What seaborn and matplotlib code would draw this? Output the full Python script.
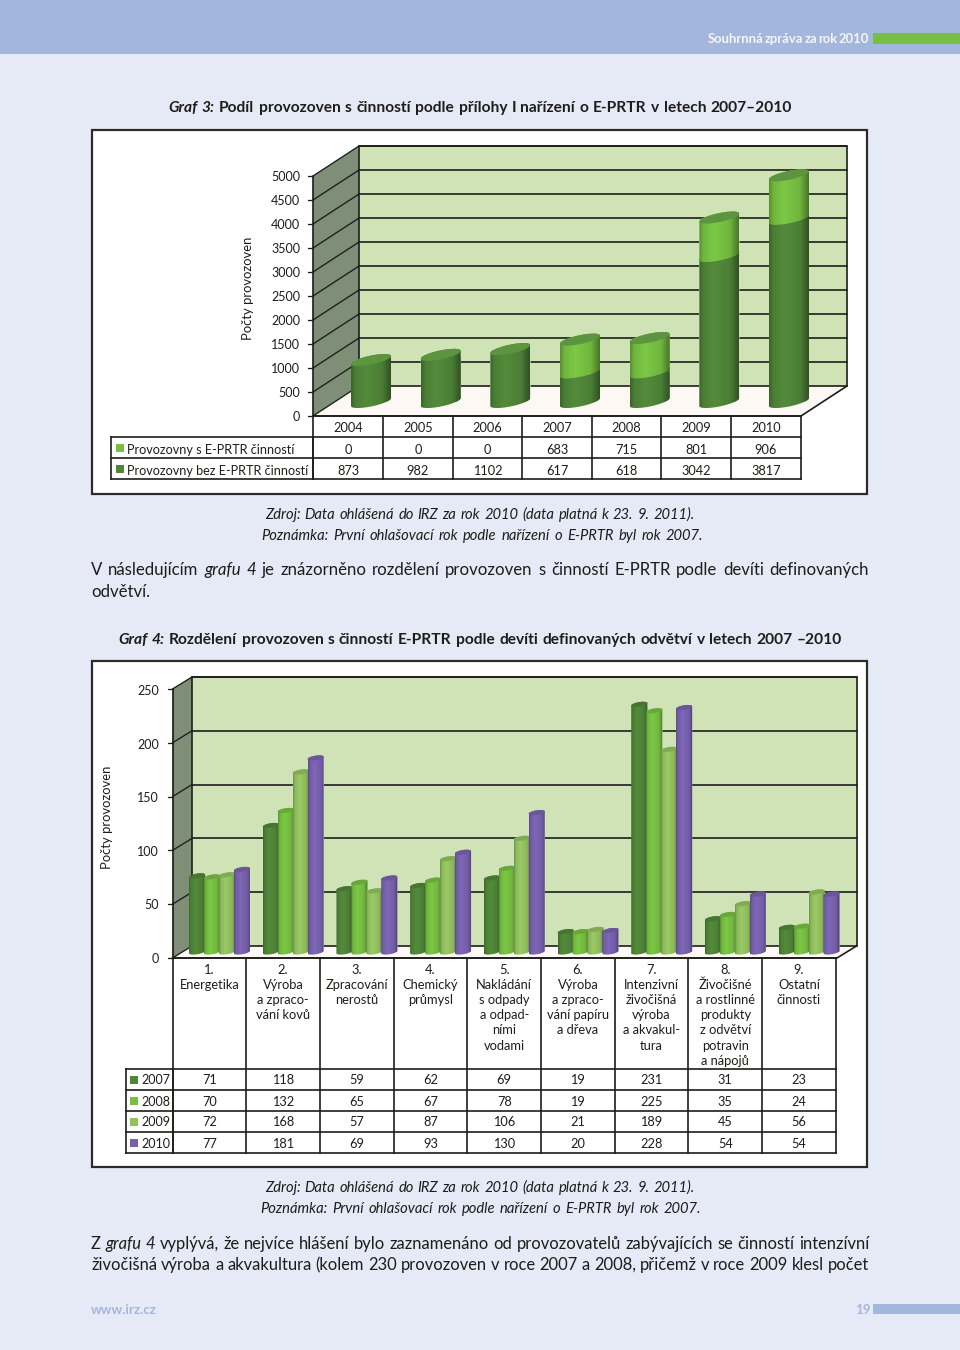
import numpy as np
import pandas as pd
import matplotlib
matplotlib.use("Agg")
import matplotlib.pyplot as plt
import seaborn as sns
from matplotlib.patches import Polygon, Rectangle

# dati graf 3
roky = ['2004', '2005', '2006', '2007', '2008', '2009', '2010']
s_prtr = [0, 0, 0, 683, 715, 801, 906]
bez_prtr = [873, 982, 1102, 617, 618, 3042, 3817]
ticks3 = [0, 500, 1000, 1500, 2000, 2500, 3000, 3500, 4000, 4500, 5000]

# dati graf 4
odvetvi = ['1', '2', '3', '4', '5', '6', '7', '8', '9']
popisky = [
    ['1.', 'Energetika'],
    ['2.', 'Výroba', 'a zpraco-', 'vání kovů'],
    ['3.', 'Zpracování', 'nerostů'],
    ['4.', 'Chemický', 'průmysl'],
    ['5.', 'Nakládání', 's odpady', 'a odpad-', 'ními', 'vodami'],
    ['6.', 'Výroba', 'a zpraco-', 'vání papíru', 'a dřeva'],
    ['7.', 'Intenzivní', 'živočišná', 'výroba', 'a akvakul-', 'tura'],
    ['8.', 'Živočišné', 'a rostlinné', 'produkty', 'z odvětví', 'potravin', 'a nápojů'],
    ['9.', 'Ostatní', 'činnosti'],
]
h2007 = [71, 118, 59, 62, 69, 19, 231, 31, 23]
h2008 = [70, 132, 65, 67, 78, 19, 225, 35, 24]
h2009 = [72, 168, 57, 87, 106, 21, 189, 45, 56]
h2010 = [77, 181, 69, 93, 130, 20, 228, 54, 54]
ticks4 = [0, 50, 100, 150, 200, 250]

TMAVA = '#4f8538'
SVETLA = '#76bf42'
BLEDA = '#93c160'
FIALOVA = '#7862ae'
POZADI = '#e6eaf6'
MODRA = '#a3b6dc'
STENA = '#cfe3b7'
BOK = '#7e8e77'
CARA = '#1d1d1b'
W, H = 960, 1350

sns.set_style("white")
plt.rcParams['font.family'] = ['Lato', 'DejaVu Sans']

fig = plt.figure(figsize=(W / 100, H / 100), dpi=100, facecolor=POZADI)
page = fig.add_axes([0, 0, 1, 1], zorder=0)
page.set_xlim(0, W)
page.set_ylim(H, 0)
page.axis('off')
fx = fig.add_axes([0, 0, 1, 1], zorder=3)
fx.set_xlim(0, W)
fx.set_ylim(H, 0)
fx.axis('off')
rend = fig.canvas.get_renderer()
poradi = [10]


def osy(x0, x1, y0, y1):
    ax = fig.add_axes([x0 / W, 1 - y1 / H, (x1 - x0) / W, (y1 - y0) / H], zorder=1)
    ax.patch.set_alpha(0)
    return ax


def do_stranky(ax, x, y):
    return page.transData.inverted().transform(ax.transData.transform((x, y)))


def stin(n=40):
    # svetlo na valci: tmave okraje, svetlo vlevo od stredu
    u = np.linspace(0, 1, n)
    return np.interp(u, [0, 0.1, 0.38, 0.78, 1], [0.76, 0.95, 1.05, 0.95, 0.62])


def valec(patch, ax, barva, ybot, k, b, cap=None, pad=0):
    x = patch.get_x()
    w = patch.get_width()
    xl, ytop = do_stranky(ax, x, patch.get_y() + patch.get_height())
    xr, _ = do_stranky(ax, x + w, 0)
    xl -= pad
    xr += pad
    a = (xr - xl) / 2
    cx = (xl + xr) / 2
    t1 = np.linspace(0, np.pi, 30)
    t2 = np.linspace(np.pi, 2 * np.pi, 30)
    horni = np.column_stack([cx + a * np.cos(t1), ytop - a * k * np.cos(t1) - b * np.sin(t1)])
    dolni = np.column_stack([cx + a * np.cos(t2), ybot - a * k * np.cos(t2) - b * np.sin(t2)])
    obrys = Polygon(np.vstack([horni, dolni]), closed=True, transform=fx.transData, fc='none', ec='none')
    fx.add_patch(obrys)
    rgb = np.array(matplotlib.colors.to_rgb(barva))
    img = np.clip(stin()[None, :, None] * rgb[None, None, :], 0, 1)
    poradi[0] += 1
    im = fx.imshow(img, extent=[xl, xr, ybot + b + a * k + 1, ytop - b - a * k - 1], aspect='auto',
                   interpolation='bilinear', zorder=poradi[0])
    im.set_clip_path(obrys)
    patch.set_clip_path(obrys.get_path(), transform=fx.transData)
    if cap is not None:
        t = np.r_[t1, t2]
        vrsek = np.column_stack([cx + a * np.cos(t), ytop - a * k * np.cos(t) - b * np.sin(t)])
        poradi[0] += 1
        fx.add_patch(Polygon(vrsek, closed=True, fc=cap, ec='none', zorder=poradi[0]))
    fx.set_xlim(0, W)
    fx.set_ylim(H, 0)


def radek(x, y, casti, sirka=None, size=11, color='#1d1d1b'):
    # text po slovech, aby slo michat rezy a zarovnat do sirky
    y = y + 1
    slova = []
    for text, styl in casti:
        for s in text.split():
            t = page.text(x, y, s, fontsize=size, color=color, va='center', ha='left', **styl)
            slova.append((t, t.get_window_extent(rend).width))
    soucet = sum(s[1] for s in slova)
    mezera = size * 0.32
    if sirka is not None and len(slova) > 1:
        mezera = (sirka - soucet) / (len(slova) - 1)
    for t, w in slova:
        t.set_x(x)
        x += w + mezera


def tabulka_cary(xs, ys):
    for x in xs:
        page.plot([x, x], [ys[0], ys[-1]], color=CARA, lw=1.2, solid_capstyle='projecting')
    for y in ys:
        page.plot([xs[0], xs[-1]], [y, y], color=CARA, lw=1.2, solid_capstyle='projecting')


def kostra(xf, xb, xr, y_front, y_back, y_top, grid, lw=1.2):
    # xf/xb predni a zadni levy roh, xr pravy zadni roh
    dx, dy = xb - xf, y_front - y_back
    page.add_patch(Polygon([(xb, y_top), (xr, y_top), (xr, y_back), (xb, y_back)], fc=STENA, ec='none'))
    page.add_patch(Polygon([(xf, y_front), (xb, y_back), (xb, y_top), (xf, y_top + dy)], fc=BOK, ec='none'))
    page.add_patch(Polygon([(xf, y_front), (xb, y_back), (xr, y_back), (xr - dx, y_front)], fc='#fdf8f4', ec='none'))
    for g in grid:
        page.plot([xb, xr], [g, g], color=CARA, lw=lw)
        page.plot([xf, xb], [g + dy, g], color=CARA, lw=lw * 0.8)
        page.plot([xf - 5, xf], [g + dy, g + dy], color=CARA, lw=lw * 0.8)
    page.plot([xb, xr, xr], [y_top, y_top, y_back], color=CARA, lw=lw)
    page.plot([xb, xb], [y_top, y_back], color=CARA, lw=lw)
    page.plot([xf, xf], [y_top + dy, y_front], color=CARA, lw=lw)
    page.plot([xf, xr - dx, xr], [y_front, y_front, y_back], color=CARA, lw=lw)


# hlavicka a paticka
page.add_patch(Rectangle((0, 0), W, 54, fc=MODRA, ec='none'))
page.add_patch(Rectangle((873, 33), 87, 11, fc=SVETLA, ec='none'))
radek(708, 38, [('Souhrnná zpráva za rok 2010', dict(fontweight='bold'))], sirka=161, size=9.4, color='#f2f5fb')
radek(91, 1309, [('www.irz.cz', dict(fontweight='bold'))], size=9.6, color=MODRA)
radek(855, 1309, [('19', dict(fontweight='bold'))], size=9.6, color=MODRA)
page.add_patch(Rectangle((873, 1304), 87, 10, fc=MODRA, ec='none'))

# ramecky
for y0, y1 in [(130, 494), (661, 1167)]:
    page.add_patch(Rectangle((92, y0), 775, y1 - y0, fc='white', ec='#2b2b2b', lw=1.6))

# texty
B = dict(fontweight='bold')
BI = dict(fontweight='bold', style='italic')
I = dict(style='italic')
N = dict()
radek(168, 107, [('Graf 3:', BI), ('Podíl provozoven s činností podle přílohy I nařízení o E-PRTR v letech 2007–2010', B)], sirka=624, size=11.2)
radek(118, 639, [('Graf 4:', BI), ('Rozdělení provozoven s činností E-PRTR podle devíti definovaných odvětví v letech 2007 –2010', B)], sirka=724, size=11.2)
radek(265, 514, [('Zdroj: Data ohlášená do IRZ za rok 2010 (data platná k 23. 9. 2011).', I)], sirka=430, size=10.6)
radek(261, 535, [('Poznámka: První ohlašovací rok podle nařízení o E-PRTR byl rok 2007.', I)], sirka=442, size=10.6)
radek(265, 1187, [('Zdroj: Data ohlášená do IRZ za rok 2010 (data platná k 23. 9. 2011).', I)], sirka=430, size=10.6)
radek(260, 1208, [('Poznámka: První ohlašovací rok podle nařízení o E-PRTR byl rok 2007.', I)], sirka=441, size=10.6)
radek(91, 569, [('V následujícím', N), ('grafu 4', I), ('je znázorněno rozdělení provozoven s činností E-PRTR podle devíti definovaných', N)], sirka=778, size=12.1)
radek(91, 591, [('odvětví.', N)], size=12.1)
radek(91, 1243, [('Z', N), ('grafu 4', I), ('vyplývá, že nejvíce hlášení bylo zaznamenáno od provozovatelů zabývajících se činností intenzívní', N)], sirka=778, size=11.9)
radek(91, 1264, [('živočišná výroba a akvakultura (kolem 230 provozoven v roce 2007 a 2008, přičemž v roce 2009 klesl počet', N)], sirka=778, size=11.9)

# graf 3
kostra(313, 359, 847, 416, 386, 146, [386 - 24 * i for i in range(11)])
for v in ticks3:
    page.text(300, 417 - v * 0.048, str(v), ha='right', va='center', fontsize=9, color=CARA)
page.text(248, 288, 'Počty provozoven', rotation=90, ha='center', va='center', fontsize=9.4, color=CARA)

ax3 = osy(371 - 34.83, 789 + 34.83, 146, 402)
celkem = [a + b for a, b in zip(bez_prtr, s_prtr)]
sns.barplot(x=roky, y=celkem, color=SVETLA, saturation=1, width=0.574, ax=ax3)
sns.barplot(x=roky, y=bez_prtr, color=TMAVA, saturation=1, width=0.574, ax=ax3)
ax3.set_ylim(0, (402 - 146) / 0.048)
ax3.axis('off')
n = len(roky)
VICKO = '#5c9440'
for i in range(n):
    celek, spodek = ax3.patches[i], ax3.patches[n + i]
    valec(spodek, ax3, TMAVA, 402, 0.2, 4.5, cap=VICKO)
    if s_prtr[i] > 0:
        yb = do_stranky(ax3, 0, bez_prtr[i])[1]
        valec(celek, ax3, SVETLA, yb, 0.2, 4.5, cap=VICKO)
    else:
        # bez svetle casti: sloupec celkem se orizne stejne jako spodek
        celek.set_clip_path(spodek.get_clip_path())

xs3 = [313, 383, 453, 522, 592, 661, 731, 801]
tabulka_cary(xs3, [416, 437, 458, 479])
tabulka_cary([111, 313], [437, 458, 479])
for i in range(n):
    xc = (xs3[i] + xs3[i + 1]) / 2
    page.text(xc, 428, roky[i], ha='center', va='center', fontsize=9.2, color=CARA)
    page.text(xc, 450, str(s_prtr[i]), ha='center', va='center', fontsize=9.2, color=CARA)
    page.text(xc, 471, str(bez_prtr[i]), ha='center', va='center', fontsize=9.2, color=CARA)
page.add_patch(Rectangle((116, 444), 7.5, 8, fc=SVETLA, ec='none'))
page.add_patch(Rectangle((116, 465), 7.5, 8, fc=TMAVA, ec='none'))
page.text(127, 450, 'Provozovny s E-PRTR činností', va='center', fontsize=9.1, color=CARA)
page.text(127, 471, 'Provozovny bez E-PRTR činností', va='center', fontsize=9.1, color=CARA)

# graf 4
kostra(172.5, 192, 856.5, 958, 946, 677, [946 - 53.8 * i for i in range(6)])
for v in ticks4:
    page.text(159, 959 - v * 1.072, str(v), ha='right', va='center', fontsize=9, color=CARA)
page.text(107, 817, 'Počty provozoven', rotation=90, ha='center', va='center', fontsize=9.4, color=CARA)

roky4 = ['2007', '2008', '2009', '2010']
df = pd.DataFrame({'odvetvi': odvetvi * 4,
                   'rok': np.repeat(roky4, 9),
                   'pocet': h2007 + h2008 + h2009 + h2010})
paleta = dict(zip(roky4, [TMAVA, SVETLA, BLEDA, FIALOVA]))
ax4 = osy(219.5 - 36.85, 219.5 + 36.85 * 17, 677, 952)
sns.barplot(data=df, x='odvetvi', y='pocet', hue='rok', palette=paleta, saturation=1,
            width=0.81, gap=0, legend=False, ax=ax4)
ax4.set_ylim(0, (952 - 677) / 1.072)
ax4.axis('off')
bary = [p for p in ax4.patches if p.get_height() > 0]
for j, rok in enumerate(roky4):
    for i in range(9):
        barva = paleta[rok]
        vrch = np.clip(np.array(matplotlib.colors.to_rgb(barva)) * 0.88, 0, 1)
        valec(bary[j * 9 + i], ax4, barva, 952, 0.15, 2.3, cap=vrch, pad=0.6)

xs4 = [172.5 + 73.7 * i for i in range(10)]
ys4 = [1069, 1090, 1111, 1132, 1153]
tabulka_cary(xs4, [958, 1069, 1090, 1111, 1132, 1153])
tabulka_cary([126, 172.5], ys4)
for i, radky in enumerate(popisky):
    xc = (xs4[i] + xs4[i + 1]) / 2
    for r, s in enumerate(radky):
        page.text(xc, 970 + 15.1 * r, s, ha='center', va='center', fontsize=9.3, color=CARA)
    for r, serie in enumerate([h2007, h2008, h2009, h2010]):
        page.text(xc, 1080.5 + 21 * r, str(serie[i]), ha='center', va='center', fontsize=9.2, color=CARA)
for r, rok in enumerate(roky4):
    page.add_patch(Rectangle((130, 1076 + 21 * r), 7.5, 7.5, fc=paleta[rok], ec='none'))
    page.text(141, 1080.5 + 21 * r, rok, va='center', fontsize=9, color=CARA)

fig.savefig('out.png', dpi=100, facecolor=POZADI)
plt.close(fig)
